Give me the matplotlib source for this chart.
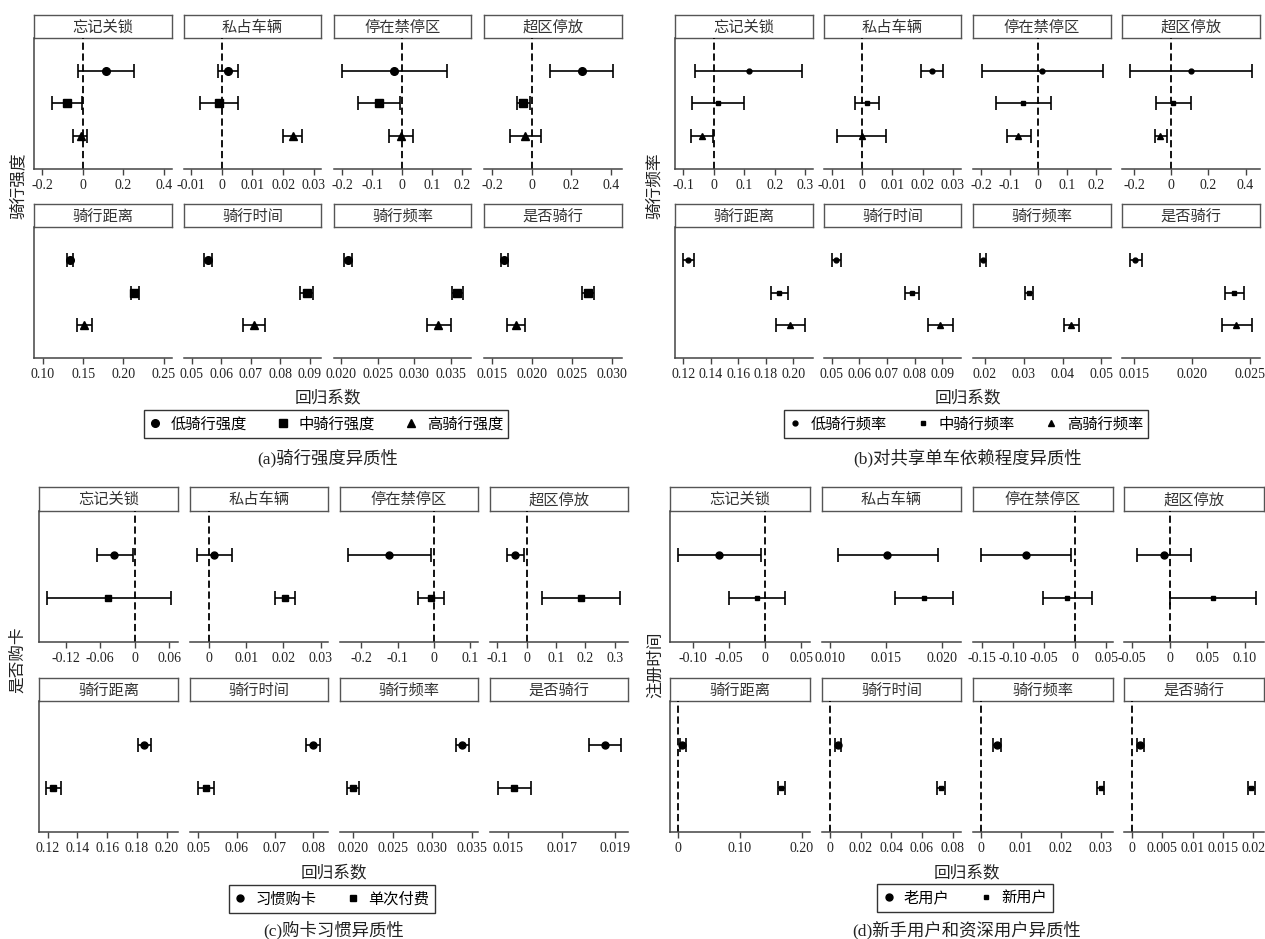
import numpy as np
import matplotlib.pyplot as plt
from matplotlib.lines import Line2D

# fonts: serif digits, CJK fallback for the Chinese text
SERIF = ['Liberation Serif', 'Noto Sans CJK SC']
CJK = ['Noto Sans CJK SC', 'Liberation Serif']

top_names = ['忘记关锁', '私占车辆', '停在禁停区', '超区停放']
bottom_names = ['骑行距离', '骑行时间', '骑行频率', '是否骑行']
panel_names = top_names + bottom_names

# ---------------- (a) riding intensity ----------------
a_groups = ['低骑行强度', '中骑行强度', '高骑行强度']
a_coef = [[0.115, -0.077, -0.010], [0.0021, -0.0009, 0.0231],
          [-0.027, -0.078, -0.004], [0.252, -0.043, -0.032],
          [0.1335, 0.2138, 0.151], [0.0553, 0.089, 0.071],
          [0.0209, 0.0359, 0.0333], [0.0165, 0.02695, 0.0180]]
a_low = [[-0.024, -0.152, -0.048], [-0.0010, -0.0070, 0.0200],
         [-0.200, -0.148, -0.044], [0.091, -0.075, -0.110],
         [0.1295, 0.209, 0.1425], [0.0541, 0.0869, 0.0672],
         [0.0204, 0.0352, 0.0317], [0.0161, 0.0262, 0.0169]]
a_high = [[0.253, -0.002, 0.022], [0.0055, 0.0053, 0.0261],
          [0.148, -0.008, 0.036], [0.412, -0.008, 0.047],
          [0.137, 0.2195, 0.1614], [0.0567, 0.0912, 0.0748],
          [0.0215, 0.0367, 0.0350], [0.0170, 0.0277, 0.0191]]
a_ticks = [[-0.2, 0, 0.2, 0.4], [-0.01, 0, 0.01, 0.02, 0.03],
           [-0.2, -0.1, 0, 0.1, 0.2], [-0.2, 0, 0.2, 0.4],
           [0.10, 0.15, 0.20, 0.25], [0.05, 0.06, 0.07, 0.08, 0.09],
           [0.020, 0.025, 0.030, 0.035], [0.015, 0.020, 0.025, 0.030]]
a_ticklabels = [['-0.2', '0', '0.2', '0.4'], ['-0.01', '0', '0.01', '0.02', '0.03'],
                ['-0.2', '-0.1', '0', '0.1', '0.2'], ['-0.2', '0', '0.2', '0.4'],
                ['0.10', '0.15', '0.20', '0.25'], ['0.05', '0.06', '0.07', '0.08', '0.09'],
                ['0.020', '0.025', '0.030', '0.035'], ['0.015', '0.020', '0.025', '0.030']]
a_xlims = [(-0.24, 0.44), (-0.0122, 0.0323), (-0.227, 0.229), (-0.242, 0.457),
           (0.089, 0.2605), (0.0473, 0.0939), (0.019, 0.0378), (0.014, 0.0312)]

# ---------------- (b) dependence on shared bikes ----------------
b_groups = ['低骑行频率', '中骑行频率', '高骑行频率']
b_coef = [[0.115, 0.0145, -0.040], [0.0231, 0.0016, -0.0001],
          [0.0127, -0.0535, -0.0704], [0.104, 0.011, -0.0587],
          [0.1238, 0.190, 0.198], [0.0517, 0.0789, 0.0892],
          [0.0195, 0.0313, 0.0423], [0.0151, 0.02364, 0.0238]]
b_low = [[-0.061, -0.070, -0.075], [0.0194, -0.0024, -0.0082],
         [-0.197, -0.148, -0.111], [-0.224, -0.083, -0.087],
         [0.1200, 0.1838, 0.1878], [0.0500, 0.0764, 0.0848],
         [0.0188, 0.0303, 0.0404], [0.0147, 0.0229, 0.0226]]
b_high = [[0.288, 0.100, -0.004], [0.0267, 0.0057, 0.0080],
          [0.224, 0.0437, -0.027], [0.435, 0.109, -0.024],
          [0.1279, 0.1961, 0.2088], [0.0535, 0.0815, 0.0940],
          [0.0202, 0.0324, 0.0443], [0.0157, 0.0245, 0.0252]]
b_ticks = [[-0.1, 0, 0.1, 0.2, 0.3], [-0.01, 0, 0.01, 0.02, 0.03],
           [-0.2, -0.1, 0, 0.1, 0.2], [-0.2, 0, 0.2, 0.4],
           [0.12, 0.14, 0.16, 0.18, 0.20], [0.05, 0.06, 0.07, 0.08, 0.09],
           [0.02, 0.03, 0.04, 0.05], [0.015, 0.020, 0.025]]
b_ticklabels = [['-0.1', '0', '0.1', '0.2', '0.3'], ['-0.01', '0', '0.01', '0.02', '0.03'],
                ['-0.2', '-0.1', '0', '0.1', '0.2'], ['-0.2', '0', '0.2', '0.4'],
                ['0.12', '0.14', '0.16', '0.18', '0.20'], ['0.05', '0.06', '0.07', '0.08', '0.09'],
                ['0.02', '0.03', '0.04', '0.05'], ['0.015', '0.020', '0.025']]
b_xlims = [(-0.127, 0.325), (-0.0126, 0.0327), (-0.228, 0.2535), (-0.265, 0.478),
           (0.114, 0.2145), (0.0472, 0.0968), (0.0169, 0.0525), (0.014, 0.0259)]

# ---------------- (c) card purchase habit ----------------
c_groups = ['习惯购卡', '单次付费']
c_coef = [[-0.0352, -0.0457], [0.0014, 0.0204], [-0.123, -0.009], [-0.038, 0.185],
          [0.185, 0.1237], [0.0799, 0.0520], [0.0338, 0.0200], [0.01861, 0.01523]]
c_low = [[-0.066, -0.1519], [-0.0032, 0.0178], [-0.238, -0.044], [-0.067, 0.053],
         [0.1805, 0.1190], [0.0781, 0.0499], [0.0330, 0.0192], [0.01802, 0.01462]]
c_high = [[-0.0035, 0.0626], [0.0060, 0.0230], [-0.009, 0.027], [-0.0096, 0.318],
          [0.1893, 0.1288], [0.0818, 0.0542], [0.0346, 0.0207], [0.01921, 0.01586]]
c_ticks = [[-0.12, -0.06, 0, 0.06], [0, 0.01, 0.02, 0.03],
           [-0.2, -0.1, 0, 0.1], [-0.1, 0, 0.1, 0.2, 0.3],
           [0.12, 0.14, 0.16, 0.18, 0.20], [0.05, 0.06, 0.07, 0.08],
           [0.020, 0.025, 0.030, 0.035], [0.015, 0.017, 0.019]]
c_ticklabels = [['-0.12', '-0.06', '0', '0.06'], ['0', '0.01', '0.02', '0.03'],
                ['-0.2', '-0.1', '0', '0.1'], ['-0.1', '0', '0.1', '0.2', '0.3'],
                ['0.12', '0.14', '0.16', '0.18', '0.20'], ['0.05', '0.06', '0.07', '0.08'],
                ['0.020', '0.025', '0.030', '0.035'], ['0.015', '0.017', '0.019']]
c_xlims = [(-0.1664, 0.0752), (-0.0052, 0.032), (-0.259, 0.122), (-0.1247, 0.345),
           (0.1143, 0.2075), (0.0479, 0.0838), (0.0183, 0.0358), (0.01432, 0.01948)]

# ---------------- (d) new vs. senior users ----------------
d_groups = ['老用户', '新用户']
d_coef = [[-0.0636, -0.0112], [0.01513, 0.01839], [-0.0792, -0.0123], [-0.007, 0.0575],
          [0.0072, 0.167], [0.0052, 0.0724], [0.0040, 0.030], [0.00133, 0.0197]]
d_low = [[-0.121, -0.050], [0.01068, 0.01584], [-0.1513, -0.0513], [-0.043, 0.0],
         [0.0026, 0.1614], [0.0031, 0.070], [0.0031, 0.0291], [0.0008, 0.0191]]
d_high = [[-0.0061, 0.0268], [0.01964, 0.02100], [-0.0071, 0.0273], [0.029, 0.1156],
          [0.013, 0.1732], [0.0073, 0.075], [0.0049, 0.0309], [0.0020, 0.0203]]
d_ticks = [[-0.10, -0.05, 0, 0.05], [0.010, 0.015, 0.020],
           [-0.15, -0.10, -0.05, 0, 0.05], [-0.05, 0, 0.05, 0.10],
           [0, 0.10, 0.20], [0, 0.02, 0.04, 0.06, 0.08],
           [0, 0.01, 0.02, 0.03], [0, 0.005, 0.01, 0.015, 0.02]]
d_ticklabels = [['-0.10', '-0.05', '0', '0.05'], ['0.010', '0.015', '0.020'],
                ['-0.15', '-0.10', '-0.05', '0', '0.05'], ['-0.05', '0', '0.05', '0.10'],
                ['0', '0.10', '0.20'], ['0', '0.02', '0.04', '0.06', '0.08'],
                ['0', '0.01', '0.02', '0.03'], ['0', '0.005', '0.01', '0.015', '0.02']]
d_xlims = [(-0.1317, 0.0619), (0.00928, 0.02172), (-0.1643, 0.061), (-0.0608, 0.1258),
           (-0.013, 0.2137), (-0.0052, 0.0855), (-0.002, 0.0331), (-0.00133, 0.0218)]

W, H = 1265, 939
fig = plt.figure(figsize=(W / 100, H / 100), dpi=100)


def box(x0, y0, x1, y1):
    # pixel box (top-left origin) -> figure fraction
    return [x0 / W, 1 - y1 / H, (x1 - x0) / W, (y1 - y0) / H]


def panel(x0, x1, rows, title, c, l, h, ticks, labels, xlim, markers, ms, first):
    s0, s1, p1 = rows
    st = fig.add_axes(box(x0, s0, x1, s1))
    st.set_xticks([])
    st.set_yticks([])
    for sp in st.spines.values():
        sp.set_color('#555555')
        sp.set_linewidth(1.0)
    st.text(0.5, 0.47, title, ha='center', va='center', fontsize=11,
            family=CJK, color='#333333')

    ax = fig.add_axes(box(x0, s1, x1, p1))
    n = len(c)
    y = np.arange(1, n + 1)
    if xlim[0] < 0 < xlim[1]:
        ax.axvline(0, color='black', ls=(0, (4, 2)), lw=1.3, zorder=1)
    for yi, ci, li, hi, m, s in zip(y, c, l, h, markers, ms):
        ax.errorbar(ci, yi, xerr=[[ci - li], [hi - ci]], fmt=m, color='black',
                    ms=s, capsize=5, elinewidth=1.2, capthick=1.2, zorder=3)
    ax.set_xlim(xlim)
    ax.set_ylim(n + 1, 0)
    ax.set_xticks(ticks)
    ax.set_xticklabels(labels, family=SERIF, fontsize=10, color='#222222')
    ax.set_yticks([])
    ax.spines['top'].set_visible(False)
    ax.spines['right'].set_visible(False)
    ax.spines['left'].set_visible(first)
    ax.spines['left'].set_color('#444444')
    ax.spines['bottom'].set_color('#444444')
    ax.spines['left'].set_linewidth(1.1)
    ax.spines['bottom'].set_linewidth(1.1)
    ax.tick_params(axis='x', length=4, width=1, color='#444444', pad=3)
    ax.patch.set_alpha(0)


def quadrant(px, top_rows, bottom_rows, coef, low, high, ticks, ticklabels, xlims,
             groups, markers, ms, ylabel, ylabel_xy, xlabel_y, legend_xy, caption, caption_y):
    for k in range(8):
        x0, x1 = px[k % 4]
        rows = top_rows if k < 4 else bottom_rows
        panel(x0, x1, rows, panel_names[k], coef[k], low[k], high[k],
              ticks[k], ticklabels[k], xlims[k], markers, ms, k % 4 == 0)
    cx = (px[0][0] + px[3][1]) / 2
    fig.text(ylabel_xy[0] / W, 1 - ylabel_xy[1] / H, ylabel, rotation=90,
             ha='center', va='center', fontsize=12, family=CJK, color='#222222')
    fig.text(cx / W, 1 - xlabel_y / H, '回归系数', ha='center', va='center',
             fontsize=12, family=CJK, color='#222222')
    handles = [Line2D([], [], marker=m, color='black', ls='none', ms=s)
               for m, s in zip(markers, ms)]
    leg = fig.legend(handles, groups, loc='center',
                     bbox_to_anchor=(legend_xy[0] / W, 1 - legend_xy[1] / H),
                     ncol=len(groups), frameon=True, fancybox=False,
                     edgecolor='black', prop={'family': CJK, 'size': 11},
                     handlelength=0.8, handletextpad=0.6, columnspacing=2.0,
                     borderpad=0.35, borderaxespad=0)
    leg.get_frame().set_linewidth(1.0)
    fig.text(cx / W, 1 - caption_y / H, caption, ha='center', va='center',
             fontsize=12.5, family=SERIF, color='#222222')


quadrant([(34, 172), (184, 321), (334, 471), (484, 622)], (15, 38, 169), (204, 227, 358),
         a_coef, a_low, a_high, a_ticks, a_ticklabels, a_xlims, a_groups,
         ['o', 's', '^'], [5.5, 5.5, 6], '骑行强度', (18, 186), 398, (326, 424),
         '(a)骑行强度异质性', 458)

quadrant([(675, 813), (824, 961), (973, 1111), (1122, 1260)], (15, 38, 169), (204, 227, 358),
         b_coef, b_low, b_high, b_ticks, b_ticklabels, b_xlims, b_groups,
         ['o', 's', '^'], [3.5, 3.5, 4], '骑行频率', (655, 186), 398, (966, 424),
         '(b)对共享单车依赖程度异质性', 458)

quadrant([(39, 178), (190, 328), (340, 478), (490, 628)], (487, 511, 642), (678, 701, 832),
         c_coef, c_low, c_high, c_ticks, c_ticklabels, c_xlims, c_groups,
         ['o', 's'], [5, 5], '是否购卡', (18, 660), 873, (332, 899),
         '(c)购卡习惯异质性', 930)

quadrant([(670, 810), (822, 961), (973, 1113), (1124, 1264)], (487, 511, 642), (678, 701, 832),
         d_coef, d_low, d_high, d_ticks, d_ticklabels, d_xlims, d_groups,
         ['o', 's'], [5, 3.5], '注册时间', (655, 665), 873, (965, 898),
         '(d)新手用户和资深用户异质性', 930)

fig.savefig('out.png', dpi=100)
